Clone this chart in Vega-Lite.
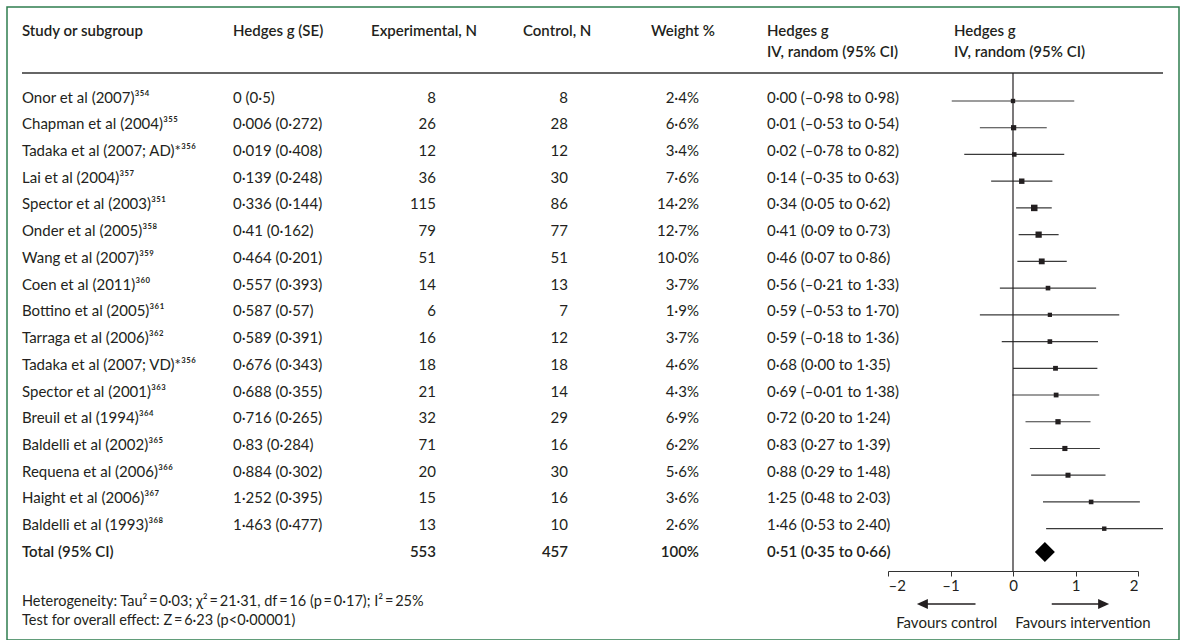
{
  "$schema": "https://vega.github.io/schema/vega-lite/v6.json",
  "width": 1172,
  "height": 633,
  "autosize": {"type": "none"},
  "padding": {"left": 7, "top": 7, "right": 3, "bottom": 0},
  "background": "white",
  "config": {"view": {"stroke": "#2f7d4f", "strokeWidth": 1.5}},
  "datasets": {
    "studies": [
      {"row": 1, "kind": "study", "label": "Onor et al (2007)³⁵⁴", "gse": "0 (0·5)", "exp": "8", "ctrl": "8", "wt": "2·4%", "ci": "0·00 (–0·98 to 0·98)", "g": 0.0, "lo": -0.98, "hi": 0.98, "w": 2.4},
      {"row": 2, "kind": "study", "label": "Chapman et al (2004)³⁵⁵", "gse": "0·006 (0·272)", "exp": "26", "ctrl": "28", "wt": "6·6%", "ci": "0·01 (–0·53 to 0·54)", "g": 0.01, "lo": -0.53, "hi": 0.54, "w": 6.6},
      {"row": 3, "kind": "study", "label": "Tadaka et al (2007; AD)*³⁵⁶", "gse": "0·019 (0·408)", "exp": "12", "ctrl": "12", "wt": "3·4%", "ci": "0·02 (–0·78 to 0·82)", "g": 0.02, "lo": -0.78, "hi": 0.82, "w": 3.4},
      {"row": 4, "kind": "study", "label": "Lai et al (2004)³⁵⁷", "gse": "0·139 (0·248)", "exp": "36", "ctrl": "30", "wt": "7·6%", "ci": "0·14 (–0·35 to 0·63)", "g": 0.14, "lo": -0.35, "hi": 0.63, "w": 7.6},
      {"row": 5, "kind": "study", "label": "Spector et al (2003)³⁵¹", "gse": "0·336 (0·144)", "exp": "115", "ctrl": "86", "wt": "14·2%", "ci": "0·34 (0·05 to 0·62)", "g": 0.34, "lo": 0.05, "hi": 0.62, "w": 14.2},
      {"row": 6, "kind": "study", "label": "Onder et al (2005)³⁵⁸", "gse": "0·41 (0·162)", "exp": "79", "ctrl": "77", "wt": "12·7%", "ci": "0·41 (0·09 to 0·73)", "g": 0.41, "lo": 0.09, "hi": 0.73, "w": 12.7},
      {"row": 7, "kind": "study", "label": "Wang et al (2007)³⁵⁹", "gse": "0·464 (0·201)", "exp": "51", "ctrl": "51", "wt": "10·0%", "ci": "0·46 (0·07 to 0·86)", "g": 0.46, "lo": 0.07, "hi": 0.86, "w": 10.0},
      {"row": 8, "kind": "study", "label": "Coen et al (2011)³⁶⁰", "gse": "0·557 (0·393)", "exp": "14", "ctrl": "13", "wt": "3·7%", "ci": "0·56 (–0·21 to 1·33)", "g": 0.56, "lo": -0.21, "hi": 1.33, "w": 3.7},
      {"row": 9, "kind": "study", "label": "Bottino et al (2005)³⁶¹", "gse": "0·587 (0·57)", "exp": "6", "ctrl": "7", "wt": "1·9%", "ci": "0·59 (–0·53 to 1·70)", "g": 0.59, "lo": -0.53, "hi": 1.70, "w": 1.9},
      {"row": 10, "kind": "study", "label": "Tarraga et al (2006)³⁶²", "gse": "0·589 (0·391)", "exp": "16", "ctrl": "12", "wt": "3·7%", "ci": "0·59 (–0·18 to 1·36)", "g": 0.59, "lo": -0.18, "hi": 1.36, "w": 3.7},
      {"row": 11, "kind": "study", "label": "Tadaka et al (2007; VD)*³⁵⁶", "gse": "0·676 (0·343)", "exp": "18", "ctrl": "18", "wt": "4·6%", "ci": "0·68 (0·00 to 1·35)", "g": 0.68, "lo": 0.0, "hi": 1.35, "w": 4.6},
      {"row": 12, "kind": "study", "label": "Spector et al (2001)³⁶³", "gse": "0·688 (0·355)", "exp": "21", "ctrl": "14", "wt": "4·3%", "ci": "0·69 (–0·01 to 1·38)", "g": 0.69, "lo": -0.01, "hi": 1.38, "w": 4.3},
      {"row": 13, "kind": "study", "label": "Breuil et al (1994)³⁶⁴", "gse": "0·716 (0·265)", "exp": "32", "ctrl": "29", "wt": "6·9%", "ci": "0·72 (0·20 to 1·24)", "g": 0.72, "lo": 0.20, "hi": 1.24, "w": 6.9},
      {"row": 14, "kind": "study", "label": "Baldelli et al (2002)³⁶⁵", "gse": "0·83 (0·284)", "exp": "71", "ctrl": "16", "wt": "6·2%", "ci": "0·83 (0·27 to 1·39)", "g": 0.83, "lo": 0.27, "hi": 1.39, "w": 6.2},
      {"row": 15, "kind": "study", "label": "Requena et al (2006)³⁶⁶", "gse": "0·884 (0·302)", "exp": "20", "ctrl": "30", "wt": "5·6%", "ci": "0·88 (0·29 to 1·48)", "g": 0.88, "lo": 0.29, "hi": 1.48, "w": 5.6},
      {"row": 16, "kind": "study", "label": "Haight et al (2006)³⁶⁷", "gse": "1·252 (0·395)", "exp": "15", "ctrl": "16", "wt": "3·6%", "ci": "1·25 (0·48 to 2·03)", "g": 1.25, "lo": 0.48, "hi": 2.03, "w": 3.6},
      {"row": 17, "kind": "study", "label": "Baldelli et al (1993)³⁶⁸", "gse": "1·463 (0·477)", "exp": "13", "ctrl": "10", "wt": "2·6%", "ci": "1·46 (0·53 to 2·40)", "g": 1.46, "lo": 0.53, "hi": 2.40, "w": 2.6},
      {"row": 18, "kind": "total", "label": "Total (95% CI)", "gse": "", "exp": "553", "ctrl": "457", "wt": "100%", "ci": "0·51 (0·35 to 0·66)", "g": 0.51, "lo": 0.35, "hi": 0.66, "w": 100}
    ]
  },
  "data": {"name": "studies"},
  "layer": [
    {
      "layer": [
        {
          "transform": [{"filter": "datum.kind == 'study'"}],
          "mark": {"type": "text", "align": "left", "baseline": "middle", "font": "Lato", "fontSize": 15, "color": "#231f20"},
          "encoding": {
            "x": {"datum": 0, "type": "quantitative", "title": null, "scale": {"domain": [0, 1, 2, 3, 4, 5], "range": [15, 226, 429, 561, 692, 760], "zero": false, "nice": false}, "axis": null},
            "y": {"field": "row", "type": "ordinal", "title": null, "scale": {"type": "point", "range": [90.5, 544.9], "padding": 0}, "axis": null},
            "text": {"field": "label", "type": "nominal"}
          }
        },
        {
          "transform": [{"filter": "datum.kind == 'study'"}],
          "mark": {"type": "text", "align": "left", "baseline": "middle", "font": "Lato", "fontSize": 15, "color": "#231f20"},
          "encoding": {
            "x": {"datum": 1, "type": "quantitative", "title": null},
            "y": {"field": "row", "type": "ordinal", "title": null},
            "text": {"field": "gse", "type": "nominal"}
          }
        },
        {
          "transform": [{"filter": "datum.kind == 'study'"}],
          "mark": {"type": "text", "align": "right", "baseline": "middle", "font": "Lato", "fontSize": 15, "color": "#231f20"},
          "encoding": {
            "x": {"datum": 2, "type": "quantitative", "title": null},
            "y": {"field": "row", "type": "ordinal", "title": null},
            "text": {"field": "exp", "type": "nominal"}
          }
        },
        {
          "transform": [{"filter": "datum.kind == 'study'"}],
          "mark": {"type": "text", "align": "right", "baseline": "middle", "font": "Lato", "fontSize": 15, "color": "#231f20"},
          "encoding": {
            "x": {"datum": 3, "type": "quantitative", "title": null},
            "y": {"field": "row", "type": "ordinal", "title": null},
            "text": {"field": "ctrl", "type": "nominal"}
          }
        },
        {
          "transform": [{"filter": "datum.kind == 'study'"}],
          "mark": {"type": "text", "align": "right", "baseline": "middle", "font": "Lato", "fontSize": 15, "color": "#231f20"},
          "encoding": {
            "x": {"datum": 4, "type": "quantitative", "title": null},
            "y": {"field": "row", "type": "ordinal", "title": null},
            "text": {"field": "wt", "type": "nominal"}
          }
        },
        {
          "transform": [{"filter": "datum.kind == 'study'"}],
          "mark": {"type": "text", "align": "left", "baseline": "middle", "font": "Lato", "fontSize": 15, "color": "#231f20"},
          "encoding": {
            "x": {"datum": 5, "type": "quantitative", "title": null},
            "y": {"field": "row", "type": "ordinal", "title": null},
            "text": {"field": "ci", "type": "nominal"}
          }
        },
        {
          "transform": [{"filter": "datum.kind == 'total'"}],
          "mark": {"type": "text", "align": "left", "baseline": "middle", "font": "Lato", "fontSize": 15, "fontWeight": 600, "color": "#231f20"},
          "encoding": {
            "x": {"datum": 0, "type": "quantitative", "title": null},
            "y": {"field": "row", "type": "ordinal", "title": null},
            "text": {"field": "label", "type": "nominal"}
          }
        },
        {
          "transform": [{"filter": "datum.kind == 'total'"}],
          "mark": {"type": "text", "align": "right", "baseline": "middle", "font": "Lato", "fontSize": 15, "fontWeight": 600, "color": "#231f20"},
          "encoding": {
            "x": {"datum": 2, "type": "quantitative", "title": null},
            "y": {"field": "row", "type": "ordinal", "title": null},
            "text": {"field": "exp", "type": "nominal"}
          }
        },
        {
          "transform": [{"filter": "datum.kind == 'total'"}],
          "mark": {"type": "text", "align": "right", "baseline": "middle", "font": "Lato", "fontSize": 15, "fontWeight": 600, "color": "#231f20"},
          "encoding": {
            "x": {"datum": 3, "type": "quantitative", "title": null},
            "y": {"field": "row", "type": "ordinal", "title": null},
            "text": {"field": "ctrl", "type": "nominal"}
          }
        },
        {
          "transform": [{"filter": "datum.kind == 'total'"}],
          "mark": {"type": "text", "align": "right", "baseline": "middle", "font": "Lato", "fontSize": 15, "fontWeight": 600, "color": "#231f20"},
          "encoding": {
            "x": {"datum": 4, "type": "quantitative", "title": null},
            "y": {"field": "row", "type": "ordinal", "title": null},
            "text": {"field": "wt", "type": "nominal"}
          }
        },
        {
          "transform": [{"filter": "datum.kind == 'total'"}],
          "mark": {"type": "text", "align": "left", "baseline": "middle", "font": "Lato", "fontSize": 15, "fontWeight": 600, "color": "#231f20"},
          "encoding": {
            "x": {"datum": 5, "type": "quantitative", "title": null},
            "y": {"field": "row", "type": "ordinal", "title": null},
            "text": {"field": "ci", "type": "nominal"}
          }
        },
        {
          "data": {"values": [{}]},
          "mark": {"type": "rule", "color": "#333333", "strokeWidth": 1.5},
          "encoding": {"x": {"value": 15}, "x2": {"value": 1156}, "y": {"value": 66}}
        },
        {
          "data": {"values": [{"t": "Study or subgroup"}]},
          "mark": {"type": "text", "align": "left", "baseline": "middle", "font": "Lato", "fontSize": 15, "fontWeight": 600, "color": "#231f20"},
          "encoding": {"x": {"value": 15}, "y": {"value": 24}, "text": {"field": "t"}}
        },
        {
          "data": {"values": [{"t": "Hedges g (SE)"}]},
          "mark": {"type": "text", "align": "left", "baseline": "middle", "font": "Lato", "fontSize": 15, "fontWeight": 600, "color": "#231f20"},
          "encoding": {"x": {"value": 226}, "y": {"value": 24}, "text": {"field": "t"}}
        },
        {
          "data": {"values": [{"t": "Experimental, N"}]},
          "mark": {"type": "text", "align": "left", "baseline": "middle", "font": "Lato", "fontSize": 15, "fontWeight": 600, "color": "#231f20"},
          "encoding": {"x": {"value": 364}, "y": {"value": 24}, "text": {"field": "t"}}
        },
        {
          "data": {"values": [{"t": "Control, N"}]},
          "mark": {"type": "text", "align": "left", "baseline": "middle", "font": "Lato", "fontSize": 15, "fontWeight": 600, "color": "#231f20"},
          "encoding": {"x": {"value": 516}, "y": {"value": 24}, "text": {"field": "t"}}
        },
        {
          "data": {"values": [{"t": "Weight %"}]},
          "mark": {"type": "text", "align": "left", "baseline": "middle", "font": "Lato", "fontSize": 15, "fontWeight": 600, "color": "#231f20"},
          "encoding": {"x": {"value": 644}, "y": {"value": 24}, "text": {"field": "t"}}
        },
        {
          "data": {"values": [{}]},
          "mark": {"type": "text", "align": "left", "baseline": "middle", "font": "Lato", "fontSize": 15, "fontWeight": 600, "color": "#231f20", "lineHeight": 21, "text": ["Hedges g", "IV, random (95% CI)"]},
          "encoding": {"x": {"value": 760}, "y": {"value": 24}}
        },
        {
          "data": {"values": [{}]},
          "mark": {"type": "text", "align": "left", "baseline": "middle", "font": "Lato", "fontSize": 15, "fontWeight": 600, "color": "#231f20", "lineHeight": 21, "text": ["Hedges g", "IV, random (95% CI)"]},
          "encoding": {"x": {"value": 947}, "y": {"value": 24}}
        },
        {
          "data": {"values": [{"t": "Heterogeneity: Tau²\u2009=\u20090·03; χ²\u2009=\u200921·31, df\u2009=\u200916 (p\u2009=\u20090·17); I²\u2009=\u200925%"}]},
          "mark": {"type": "text", "align": "left", "baseline": "middle", "font": "Lato", "fontSize": 14.5, "color": "#231f20"},
          "encoding": {"x": {"value": 15}, "y": {"value": 595}, "text": {"field": "t"}}
        },
        {
          "data": {"values": [{"t": "Test for overall effect: Z\u2009=\u20096·23 (p<0·00001)"}]},
          "mark": {"type": "text", "align": "left", "baseline": "middle", "font": "Lato", "fontSize": 14.5, "color": "#231f20"},
          "encoding": {"x": {"value": 15}, "y": {"value": 614}, "text": {"field": "t"}}
        }
      ]
    },
    {
      "layer": [
        {
          "transform": [{"filter": "datum.kind == 'study'"}],
          "mark": {"type": "rule", "color": "#3a3a3a", "strokeWidth": 1.2, "yOffset": 3.5},
          "encoding": {
            "x": {"field": "lo", "type": "quantitative", "title": null,
              "scale": {"domain": [-2, 2], "range": [881, 1131], "zero": false, "nice": false},
              "axis": {"values": [-2, -1, 0, 1, 2], "orient": "bottom", "offset": -69, "title": null, "grid": false,
                "tickSize": 5, "tickColor": "#333333", "tickWidth": 1, "domainColor": "#333333", "domainWidth": 1,
                "labelFont": "Lato", "labelFontSize": 15, "labelColor": "#231f20", "labelPadding": 2,
                "labelExpr": "datum.value < 0 ? '–' + abs(datum.value) : '' + datum.value"}},
            "x2": {"field": "hi"},
            "y": {"field": "row", "type": "ordinal", "title": null}
          }
        },
        {
          "transform": [{"filter": "datum.kind == 'study'"}],
          "mark": {"type": "point", "shape": "square", "filled": true, "opacity": 1, "color": "#231f20", "yOffset": 3.5},
          "encoding": {
            "x": {"field": "g", "type": "quantitative", "title": null},
            "y": {"field": "row", "type": "ordinal", "title": null},
            "size": {"field": "w", "type": "quantitative", "scale": {"domain": [1.9, 14.2], "range": [18, 42]}, "legend": null}
          }
        },
        {
          "transform": [{"filter": "datum.kind == 'total'"}],
          "mark": {"type": "point", "shape": "diamond", "filled": true, "opacity": 1, "color": "#000000", "size": 400},
          "encoding": {
            "x": {"field": "g", "type": "quantitative", "title": null},
            "y": {"field": "row", "type": "ordinal", "title": null}
          }
        },
        {
          "data": {"values": [{}]},
          "mark": {"type": "rule", "color": "#231f20", "strokeWidth": 1.2},
          "encoding": {"x": {"datum": 0, "type": "quantitative", "title": null}, "y": {"value": 66}, "y2": {"value": 564}}
        },
        {
          "data": {"values": [{"a": -1.4, "b": -0.6}, {"a": 0.62, "b": 1.42}]},
          "mark": {"type": "rule", "color": "#231f20", "strokeWidth": 1.5},
          "encoding": {"x": {"field": "a", "type": "quantitative", "title": null}, "x2": {"field": "b"}, "y": {"value": 597}}
        },
        {
          "data": {"values": [{}]},
          "mark": {"type": "point", "shape": "M-1,0L1,-0.9L1,0.9Z", "filled": true, "opacity": 1, "color": "#231f20", "size": 121},
          "encoding": {"x": {"datum": -1.45, "type": "quantitative", "title": null}, "y": {"value": 597}}
        },
        {
          "data": {"values": [{}]},
          "mark": {"type": "point", "shape": "M1,0L-1,-0.9L-1,0.9Z", "filled": true, "opacity": 1, "color": "#231f20", "size": 121},
          "encoding": {"x": {"datum": 1.45, "type": "quantitative", "title": null}, "y": {"value": 597}}
        },
        {
          "data": {"values": [{"t": "Favours control", "p": -1.06}, {"t": "Favours intervention", "p": 1.12}]},
          "mark": {"type": "text", "align": "center", "baseline": "middle", "font": "Lato", "fontSize": 15, "color": "#231f20"},
          "encoding": {"x": {"field": "p", "type": "quantitative", "title": null}, "y": {"value": 616}, "text": {"field": "t"}}
        }
      ]
    }
  ],
  "resolve": {"scale": {"x": "independent"}}
}
